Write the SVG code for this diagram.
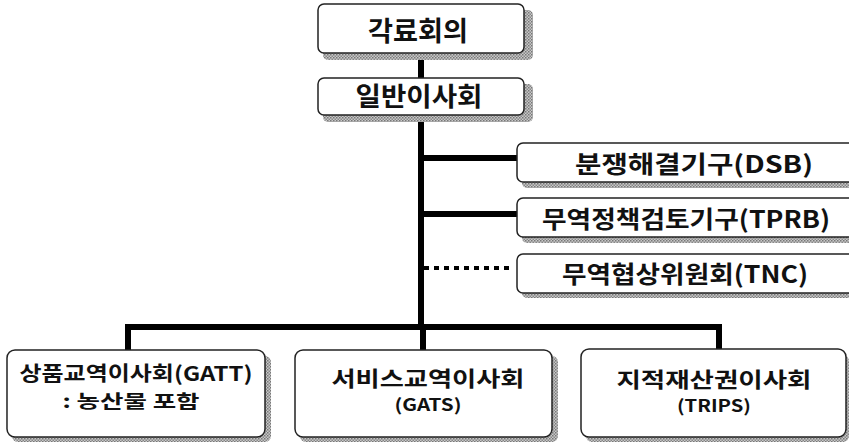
<svg xmlns="http://www.w3.org/2000/svg" width="849" height="444" viewBox="0 0 849 444">
<defs>
<pattern id="hatch" width="3" height="3" patternUnits="userSpaceOnUse">
<rect width="3" height="3" fill="#c8c8c8"/>
<rect width="1.5" height="1.5" fill="#777"/>
<rect x="1.5" y="1.5" width="1.5" height="1.5" fill="#888"/>
</pattern>
</defs>
<style>
.box{fill:#fff;stroke:#222;stroke-width:1.5}
.sh{fill:url(#hatch)}
.t{font-family:"Noto Sans CJK KR","Noto Sans",sans-serif;font-weight:bold;fill:#111;text-anchor:middle}
.ln{stroke:#000;stroke-width:6;fill:none}
.dot{stroke:#000;stroke-width:4;fill:none;stroke-dasharray:5 5}
</style>
<rect width="849" height="444" fill="#fff"/>
<g id="connectors">
<line class="ln" x1="421" y1="53" x2="421" y2="78"/>
<line class="ln" x1="421" y1="115" x2="421" y2="330"/>
<line class="ln" x1="418" y1="158" x2="518" y2="158"/>
<line class="ln" x1="418" y1="214" x2="518" y2="214"/>
<line class="dot" x1="424" y1="268" x2="512" y2="268"/>
<path class="ln" d="M128 351 V327 H719 V351"/>
<line class="ln" x1="423" y1="327" x2="423" y2="351"/>
</g>
<g id="n1">
<rect class="sh" x="323" y="10" width="210" height="50" rx="5"/>
<rect class="box" x="318" y="4" width="206" height="49" rx="6"/>
<text class="t" x="418" y="41" font-size="27" textLength="100" lengthAdjust="spacingAndGlyphs">각료회의</text>
</g>
<g id="n2">
<rect class="sh" x="323" y="84" width="210" height="38" rx="5"/>
<rect class="box" x="318" y="78" width="206" height="37" rx="6"/>
<text class="t" x="419" y="106" font-size="26" textLength="127" lengthAdjust="spacingAndGlyphs">일반이사회</text>
</g>
<g id="n3">
<rect class="sh" x="522" y="149" width="335" height="39" rx="5"/>
<rect class="box" x="517" y="143" width="340" height="39" rx="6"/>
<text class="t" x="694" y="173" font-size="24" textLength="238" lengthAdjust="spacingAndGlyphs">분쟁해결기구(DSB)</text>
</g>
<g id="n4">
<rect class="sh" x="522" y="204" width="335" height="39" rx="5"/>
<rect class="box" x="517" y="198" width="340" height="39" rx="6"/>
<text class="t" x="686" y="228" font-size="24" textLength="288" lengthAdjust="spacingAndGlyphs">무역정책검토기구(TPRB)</text>
</g>
<g id="n5">
<rect class="sh" x="522" y="260" width="335" height="38" rx="5"/>
<rect class="box" x="517" y="254" width="340" height="39" rx="6"/>
<text class="t" x="685" y="283" font-size="24" textLength="246" lengthAdjust="spacingAndGlyphs">무역협상위원회(TNC)</text>
</g>
<g id="n6">
<rect class="sh" x="12" y="356" width="259" height="86" rx="6"/>
<rect class="box" x="7" y="350" width="258" height="87" rx="8"/>
<text class="t" x="136" y="381" font-size="20" textLength="233" lengthAdjust="spacingAndGlyphs">상품교역이사회(GATT)</text>
<text class="t" x="131" y="408" font-size="18" textLength="137" lengthAdjust="spacingAndGlyphs">: 농산물 포함</text>
</g>
<g id="n7">
<rect class="sh" x="300" y="356" width="258" height="86" rx="6"/>
<rect class="box" x="295" y="350" width="257" height="87" rx="8"/>
<text class="t" x="428" y="386" font-size="21" textLength="193" lengthAdjust="spacingAndGlyphs">서비스교역이사회</text>
<text class="t" x="428" y="411" font-size="17" textLength="67" lengthAdjust="spacingAndGlyphs">(GATS)</text>
</g>
<g id="n8">
<rect class="sh" x="586" y="355" width="263" height="87" rx="6"/>
<rect class="box" x="581" y="349" width="265" height="88" rx="8"/>
<text class="t" x="714" y="387" font-size="21" textLength="195" lengthAdjust="spacingAndGlyphs">지적재산권이사회</text>
<text class="t" x="714" y="412" font-size="17" textLength="74" lengthAdjust="spacingAndGlyphs">(TRIPS)</text>
</g>
</svg>
